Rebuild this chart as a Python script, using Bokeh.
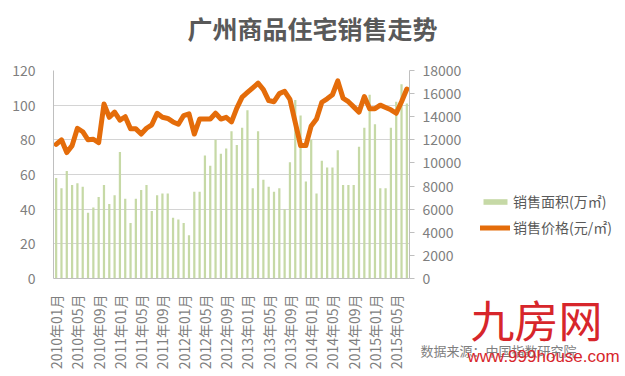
import numpy as np
from bokeh.plotting import figure
from bokeh.layouts import row, column
from bokeh.models import (Range1d, LinearAxis, FixedTicker, Legend, LegendItem,
                          ColumnDataSource)
from bokeh.embed import file_html
from bokeh.resources import INLINE
from bokeh.core.properties import value

# ---------------- data ----------------
months = [f"{y}年{m:02d}月" for y in range(2010, 2016) for m in range(1, 13)][:67]

area = [58, 52, 62, 54, 55, 53, 38, 41, 47, 54, 43, 48,
        73, 46, 32, 46, 51, 54, 39, 48, 49, 49, 35, 34,
        32, 25, 50, 50, 71, 65, 80, 72, 75, 85, 77, 87,
        97, 52, 85, 57, 53, 50, 52, 40, 67, 103, 94, 56,
        80, 49, 68, 64, 64, 74, 54, 54, 54, 76, 87, 106,
        89, 52, 52, 87, 102, 112, 101]

price = [11600, 12000, 10900, 11500, 13000, 12700, 12000, 12050, 11750, 15100, 13950, 14400,
         13700, 14000, 12950, 12950, 12500, 13000, 13300, 14300, 13950, 13850, 13550, 13350,
         14100, 14250, 12500, 13800, 13800, 13800, 14300, 13800, 13950, 13550, 14750, 15700,
         16100, 16500, 16900, 16350, 15400, 15300, 16000, 16200, 15500, 13500, 11500, 11500,
         13200, 13800, 15250, 15550, 15900, 17100, 15600, 15300, 14850, 14400, 15750, 14700,
         14700, 15000, 14800, 14600, 14300, 15300, 16400]

left_ticks = [0, 20, 40, 60, 80, 100, 120]
right_ticks = [0, 2000, 4000, 6000, 8000, 10000, 12000, 14000, 16000, 18000]
label_every = 4

title_text = "广州商品住宅销售走势"
area_name = "销售面积(万㎡)"
price_name = "销售价格(元/㎡)"
source_text = "数据来源：中国指数研究院"
logo_text = "九房网"
site_text = "www.999house.com"

# ---------------- styles ----------------
FONT = "Noto Sans CJK SC"
GREY = "#7f7f7f"
AX = "#bfbfbf"
BAR = "#c6d9a6"
ORANGE = "#e46c0a"
RED = "#d7262b"

# ---------------- main chart ----------------
idx = list(range(len(months)))
src = ColumnDataSource(dict(idx=idx, area=area, price=price, month=months))

p = figure(width=465, height=376, output_backend="svg", toolbar_location=None,
           x_range=Range1d(-0.5, len(months) - 0.5), y_range=Range1d(0, 120),
           min_border_left=53, min_border_right=56, min_border_top=70,
           min_border_bottom=98)
p.outline_line_color = None

p.extra_y_ranges = {"price": Range1d(0, 18000)}

bars = p.vbar(x="idx", top="area", width=0.42, source=src,
              fill_color=BAR, line_color=None)
line = p.line(x="idx", y="price", source=src, y_range_name="price",
              line_color=ORANGE, line_width=5, line_join="round", line_cap="round")

xa = p.xaxis[0]
xa.ticker = FixedTicker(ticks=idx[::label_every])
xa.major_label_overrides = {i: months[i] for i in idx[::label_every]}
xa.major_label_orientation = np.pi / 2
xa.major_tick_line_color = None
xa.minor_tick_line_color = None
xa.axis_line_color = AX
xa.major_label_standoff = 10
xa.major_label_text_font = FONT
xa.major_label_text_font_size = "14px"
xa.major_label_text_color = GREY

ya = p.yaxis[0]
ya.ticker = FixedTicker(ticks=left_ticks)
ya.major_tick_line_color = None
ya.minor_tick_line_color = None
ya.axis_line_color = AX
ya.major_label_standoff = 12
ya.major_label_text_font = FONT
ya.major_label_text_font_size = "14px"
ya.major_label_text_color = GREY

p.xgrid.visible = False
p.ygrid.ticker = FixedTicker(ticks=left_ticks)
p.ygrid.grid_line_color = "#d4d4d4"

ra = LinearAxis(y_range_name="price", ticker=FixedTicker(ticks=right_ticks))
ra.major_tick_out = 5
ra.major_tick_in = 0
ra.major_tick_line_color = AX
ra.minor_tick_line_color = None
ra.axis_line_color = AX
ra.major_label_standoff = 8
ra.major_label_text_font = FONT
ra.major_label_text_font_size = "14px"
ra.major_label_text_color = GREY
p.add_layout(ra, "right")

# ---------------- transparent overlay: title, legend, source note, watermark ----------------
q = figure(width=625, height=376, output_backend="svg", toolbar_location=None,
           x_range=Range1d(0, 625), y_range=Range1d(376, 0),
           x_axis_location=None, y_axis_location=None,
           min_border_left=0, min_border_right=0, min_border_top=0, min_border_bottom=0)
q.grid.visible = False
q.outline_line_color = None
q.background_fill_alpha = 0
q.border_fill_alpha = 0

q.text(x=[312], y=[27], text=[title_text], text_font=value(FONT),
       text_font_size="25px", text_font_style="bold", text_color="#595959",
       text_align="center", text_baseline="middle")

# legend proxies (zero-size, only their styles feed the legend)
proxy = ColumnDataSource(dict(x=[0], y=[0]))
leg_bar = q.vbar(x="x", top="y", width=0, source=proxy, fill_color=BAR, line_color=None)
leg_line = q.line(x="x", y="y", source=proxy, line_color=ORANGE, line_width=5,
                  line_cap="round")
legend = Legend(items=[LegendItem(label=area_name, renderers=[leg_bar]),
                       LegendItem(label=price_name, renderers=[leg_line])],
                location=(480, 139), orientation="vertical",
                glyph_width=30, glyph_height=7, label_height=20, spacing=6,
                padding=0, margin=0, border_line_color=None,
                background_fill_alpha=0, label_text_font=FONT,
                label_text_font_size="14px", label_text_color="#595959",
                label_standoff=3)
q.add_layout(legend, "center")

q.text(x=[420], y=[350], text=[source_text], text_font=value(FONT),
       text_font_size="13px", text_color=GREY, text_baseline="middle")
q.text(x=[470], y=[318], text=[logo_text], text_font=value(FONT),
       text_font_size="44px", text_color=RED, text_baseline="middle")
q.text(x=[467], y=[356], text=[site_text], text_font=value("Liberation Sans"),
       text_font_size="17px", text_color=RED, text_baseline="middle")

overlay = column(q, margin=(0, 0, 0, -465))
layout = row(p, overlay)
open("out.html", "w").write(file_html(layout, INLINE))
